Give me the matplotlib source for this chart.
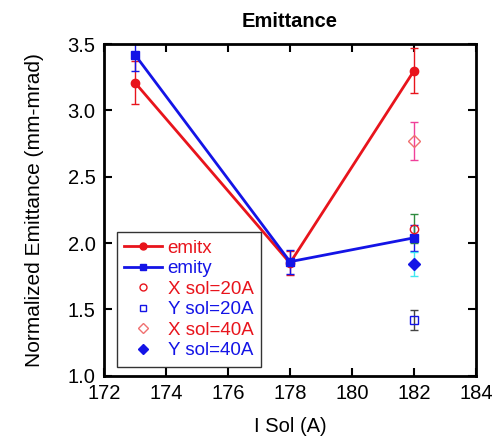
import matplotlib.pyplot as plt
from matplotlib.lines import Line2D

plt.rcParams['font.family'] = ['Liberation Sans', 'DejaVu Sans']

sol = [173, 178, 182]
emitx = [3.21, 1.85, 3.30]
emitx_err = [0.16, 0.09, 0.17]
emity = [3.42, 1.86, 2.04]
emity_err = [0.12, 0.09, 0.10]

x20 = [182]
x20_val = [2.11]
x20_err = [0.11]
y20_val = [1.42]
y20_err = [0.075]
x40_val = [2.77]
x40_err = [0.14]
y40_val = [1.84]
y40_err = [0.09]

red = '#e8141c'
blue = '#1414e6'

fig = plt.figure(figsize=(4.97, 4.36), dpi=100)
ax = fig.add_axes([0.209, 0.138, 0.749, 0.761])

ax.errorbar(sol, emitx, yerr=emitx_err, color=red, ecolor=red, marker='o',
            ms=6, lw=2, capsize=3, elinewidth=1)
ax.errorbar(sol, emity, yerr=emity_err, color=blue, ecolor=blue, marker='s',
            ms=6, lw=2, capsize=3, elinewidth=1)
ax.errorbar(x20, x20_val, yerr=x20_err, color=red, ecolor='#2e8b3e', marker='o',
            mfc='none', ms=6, ls='none', capsize=3, elinewidth=1)
ax.errorbar(x20, y20_val, yerr=y20_err, color=blue, ecolor='#444444', marker='s',
            mfc='none', ms=6, ls='none', capsize=3, elinewidth=1)
ax.errorbar(x20, x40_val, yerr=x40_err, color='#f07070', ecolor='#f0409a', marker='D',
            mfc='none', ms=6, ls='none', capsize=3, elinewidth=1)
ax.errorbar(x20, y40_val, yerr=y40_err, color=blue, ecolor='#40e8f0', marker='D',
            ms=6, ls='none', capsize=3, elinewidth=1)

ax.set_xlim(172, 184)
ax.set_ylim(1.0, 3.5)
ax.set_xticks(range(172, 185, 2))
ax.set_yticks([1.0, 1.5, 2.0, 2.5, 3.0, 3.5])
ax.tick_params(direction='in', top=True, right=True, length=6, width=1.5,
               labelsize=14.5, pad=6)
for s in ax.spines.values():
    s.set_linewidth(2)

ax.set_title('Emittance', fontsize=14.5, fontweight='bold', pad=12)
ax.set_xlabel('I Sol (A)', fontsize=14.5, labelpad=10)
ax.set_ylabel('Normalized Emittance (mm-mrad)', fontsize=15, labelpad=17)

labels = ['emitx', 'emity', 'X sol=20A', 'Y sol=20A', 'X sol=40A', 'Y sol=40A']
handles = [
    Line2D([], [], color=red, lw=2, marker='o', ms=5),
    Line2D([], [], color=blue, lw=2, marker='s', ms=5),
    Line2D([], [], color=red, ls='none', marker='o', mfc='none', ms=5),
    Line2D([], [], color=blue, ls='none', marker='s', mfc='none', ms=5),
    Line2D([], [], color='#f07070', ls='none', marker='D', mfc='none', ms=5),
    Line2D([], [], color=blue, ls='none', marker='D', ms=5),
]
leg = ax.legend(handles, labels, loc='lower left', bbox_to_anchor=(0.035, 0.027),
                borderaxespad=0, fontsize=13.5, frameon=True, fancybox=False,
                edgecolor='black', handlelength=2.0, handletextpad=0.3,
                labelspacing=0.18, borderpad=0.4)
leg.get_frame().set_linewidth(1)
for text, c in zip(leg.get_texts(), [red, blue, red, blue, red, blue]):
    text.set_color(c)

fig.savefig('out.png', dpi=100)
